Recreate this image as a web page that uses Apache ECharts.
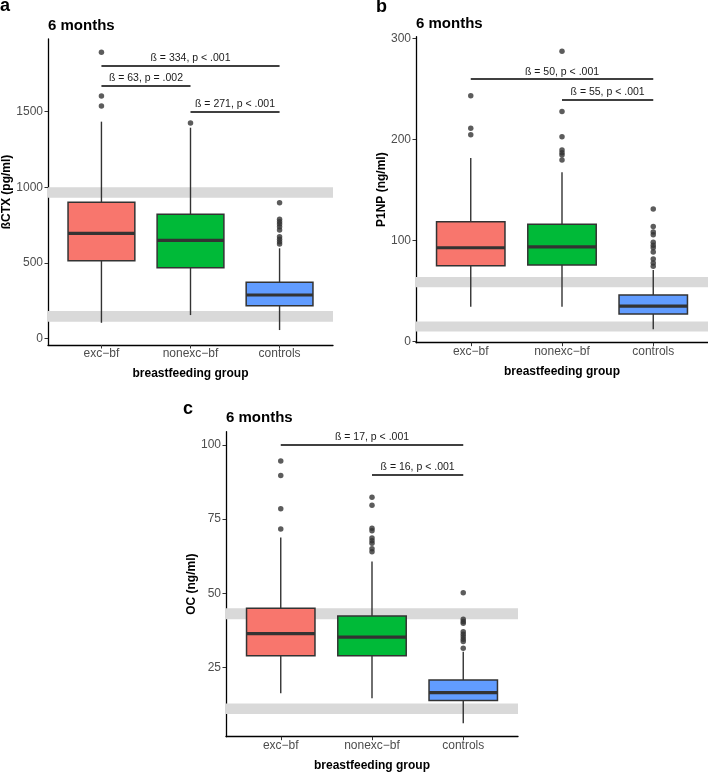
<!DOCTYPE html>
<html>
<head>
<meta charset="utf-8">
<script src="https://cdn.jsdelivr.net/npm/echarts@6/dist/echarts.min.js"></script>
<style>
html,body{margin:0;padding:0;background:#fff;}
#chart{width:708px;height:772px;}
</style>
</head>
<body>
<div id="chart"></div>
<script>
// ---- data ----
const categories = ['exc\u2212bf', 'nonexc\u2212bf', 'controls'];
const boxColors = ['#F8766D', '#00BA38', '#619CFF'];

// panel a: ßCTX (pg/ml)  [min, Q1, median, Q3, max]
const ctxBox = [[103, 514, 695, 900, 1434], [154, 467, 649, 821, 1394], [55, 216, 287, 371, 596]];
const ctxOutExc = [1893, 1604, 1538];
const ctxOutNon = [1425];
const ctxOutCtl = [898, 788, 772, 757, 739, 717, 673, 655, 639, 624];
const ctxBands = [[110, 181], [931, 1000]];
const ctxTicks = [0, 500, 1000, 1500];
const ctxSig = [[1, 3, 1802, '\u00DF = 334, p < .001'], [1, 2, 1670, '\u00DF = 63, p = .002'], [2, 3, 1500, '\u00DF = 271, p < .001']];

// panel b: P1NP (ng/ml)
const p1npBox = [[34.7, 75.2, 93, 118.8, 181.9], [34.7, 75.9, 93.8, 116.2, 167.7], [12.2, 27.4, 35.3, 46.2, 71]];
const p1npOutExc = [243.6, 211.3, 205];
const p1npOutNon = [287.5, 228, 203, 189.8, 187, 184.8, 180];
const p1npOutCtl = [131.4, 114, 108.5, 105.8, 98.5, 95.5, 93, 88.8, 82, 78, 74.6];
const p1npBands = [[10, 20], [54, 64]];
const p1npTicks = [0, 100, 200, 300];
const p1npSig = [[1, 3, 260, '\u00DF = 50, p < .001'], [2, 3, 240, '\u00DF = 55, p < .001']];

// panel c: OC (ng/ml)
const ocBox = [[16.3, 28.9, 36.4, 44.9, 68.8], [14.6, 28.9, 35.2, 42.3, 60.7], [6.1, 13.8, 16.5, 20.7, 30.3]];
const ocOutExc = [94.6, 89.7, 78.5, 71.7];
const ocOutNon = [82.4, 79.7, 71.9, 71.1, 68.6, 67.7, 66.9, 65, 64];
const ocOutCtl = [50.2, 41.2, 40.5, 39.9, 37, 36.2, 35.3, 34.5, 33.7, 31.4];
const ocBands = [[9.3, 12.8], [41.2, 44.9]];
const ocTicks = [25, 50, 75, 100];
const ocSig = [[1, 3, 100, '\u00DF = 17, p < .001'], [2, 3, 90, '\u00DF = 16, p < .001']];

const panels = [
  {letter: 'a', yName: '\u00DFCTX (pg/ml)', box: ctxBox, out: [ctxOutExc, ctxOutNon, ctxOutCtl], bands: ctxBands, ticks: ctxTicks, sig: ctxSig,
   grid: {left: 48, top: 39, width: 285, height: 306}, yMin: -44, yMax: 1981, yGap: 35,
   letterPos: [0, -2.6], titlePos: [48, 18]},
  {letter: 'b', yName: 'P1NP (ng/ml)', box: p1npBox, out: [p1npOutExc, p1npOutNon, p1npOutCtl], bands: p1npBands, ticks: p1npTicks, sig: p1npSig,
   grid: {left: 416, top: 36.7, width: 292, height: 306}, yMin: -1, yMax: 302, yGap: 28,
   letterPos: [376, -2], titlePos: [416, 16.6]},
  {letter: 'c', yName: 'OC (ng/ml)', box: ocBox, out: [ocOutExc, ocOutNon, ocOutCtl], bands: ocBands, ticks: ocTicks, sig: ocSig,
   grid: {left: 226, top: 431.7, width: 292, height: 305}, yMin: 1.6, yMax: 104.5, yGap: 28,
   letterPos: [183, 399.7], titlePos: [226, 410.6]}
];

const FONT = 'Liberation Sans, Arial, Helvetica, sans-serif';

function renderBox(params, api) {
  const x = api.value(0);
  const lo = api.coord([x, api.value(1)]);
  const q1 = api.coord([x, api.value(2)]);
  const md = api.coord([x, api.value(3)]);
  const q3 = api.coord([x, api.value(4)]);
  const hi = api.coord([x, api.value(5)]);
  const w = api.size([0.75, 0])[0];
  const cx = lo[0];
  const stroke = '#333333';
  return {
    type: 'group',
    children: [
      {type: 'line', shape: {x1: cx, y1: lo[1], x2: cx, y2: q1[1]}, style: {stroke: stroke, lineWidth: 1.4}},
      {type: 'line', shape: {x1: cx, y1: q3[1], x2: cx, y2: hi[1]}, style: {stroke: stroke, lineWidth: 1.4}},
      {type: 'rect', shape: {x: cx - w / 2, y: q3[1], width: w, height: q1[1] - q3[1]},
       style: {fill: boxColors[params.dataIndex], stroke: stroke, lineWidth: 1.5}},
      {type: 'line', shape: {x1: cx - w / 2, y1: md[1], x2: cx + w / 2, y2: md[1]}, style: {stroke: stroke, lineWidth: 3.2}}
    ]
  };
}

const option = {
  backgroundColor: '#ffffff',
  animation: false,
  grid: [], xAxis: [], yAxis: [], series: [], title: []
};

panels.forEach(function (p, i) {
  option.grid.push(Object.assign({containLabel: false, outerBoundsMode: 'none'}, p.grid));
  option.xAxis.push({
    type: 'value', gridIndex: i, min: 0.4, max: 3.6,
    name: 'breastfeeding group', nameLocation: 'middle', nameGap: 22.5, nameMoveOverlap: false,
    nameTextStyle: {fontFamily: FONT, fontSize: 12, fontWeight: 'bold', color: '#000'},
    axisLine: {show: true, onZero: false, lineStyle: {color: '#000', width: 1.3}},
    axisTick: {show: true, length: 3.5, customValues: [1, 2, 3], lineStyle: {color: '#333', width: 1}},
    axisLabel: {customValues: [1, 2, 3], margin: 3, fontFamily: FONT, fontSize: 12, color: '#4D4D4D',
      formatter: function (v) { return categories[Math.round(v) - 1] || ''; }},
    splitLine: {show: false}
  });
  option.yAxis.push({
    type: 'value', gridIndex: i, min: p.yMin, max: p.yMax,
    name: p.yName, nameLocation: 'middle', nameGap: p.yGap, nameRotate: 90, nameMoveOverlap: false,
    nameTextStyle: {fontFamily: FONT, fontSize: 12, fontWeight: 'bold', color: '#000'},
    axisLine: {show: true, onZero: false, lineStyle: {color: '#000', width: 1.3}},
    axisTick: {show: true, length: 3.5, customValues: p.ticks, lineStyle: {color: '#333', width: 1}},
    axisLabel: {customValues: p.ticks, margin: 5, fontFamily: FONT, fontSize: 12, color: '#4D4D4D',
      formatter: function (v) { return String(Math.round(v)); }},
    splitLine: {show: false}
  });
  // boxes
  option.series.push({
    type: 'custom', xAxisIndex: i, yAxisIndex: i, z: 2,
    data: p.box.map(function (b, k) { return [k + 1].concat(b); }),
    renderItem: renderBox,
    encode: {x: 0, y: [1, 2, 3, 4, 5]},
    markArea: {
      silent: true, z: 1,
      itemStyle: {color: '#D9D9D9', opacity: 1},
      label: {show: false},
      data: p.bands.map(function (b) { return [{yAxis: b[0]}, {yAxis: b[1]}]; })
    }
  });
  // outliers + significance lines
  const outData = [];
  p.out.forEach(function (arr, k) { arr.forEach(function (v) { outData.push([k + 1, v]); }); });
  option.series.push({
    type: 'scatter', xAxisIndex: i, yAxisIndex: i, z: 3,
    symbol: 'circle', symbolSize: 5.5,
    itemStyle: {color: '#333333'},
    data: outData,
    markLine: {
      silent: true, symbol: ['none', 'none'],
      lineStyle: {color: '#000', width: 1.5, type: 'solid'},
      label: {show: true, position: 'middle', distance: 2, fontFamily: FONT, fontSize: 10.5, color: '#1a1a1a'},
      data: p.sig.map(function (s) {
        return [{coord: [s[0], s[2]], label: {formatter: s[3]}}, {coord: [s[1], s[2]]}];
      })
    }
  });
  option.title.push({
    text: p.letter, left: p.letterPos[0], top: p.letterPos[1], padding: 0,
    textStyle: {fontFamily: FONT, fontSize: 18, fontWeight: 'bold', color: '#000'}
  });
  option.title.push({
    text: '6 months', left: p.titlePos[0], top: p.titlePos[1], padding: 0,
    textStyle: {fontFamily: FONT, fontSize: 15, fontWeight: 'bold', color: '#000'}
  });
});

const chart = echarts.init(document.getElementById('chart'), null, {renderer: 'canvas'});
chart.setOption(option);
</script>
</body>
</html>
